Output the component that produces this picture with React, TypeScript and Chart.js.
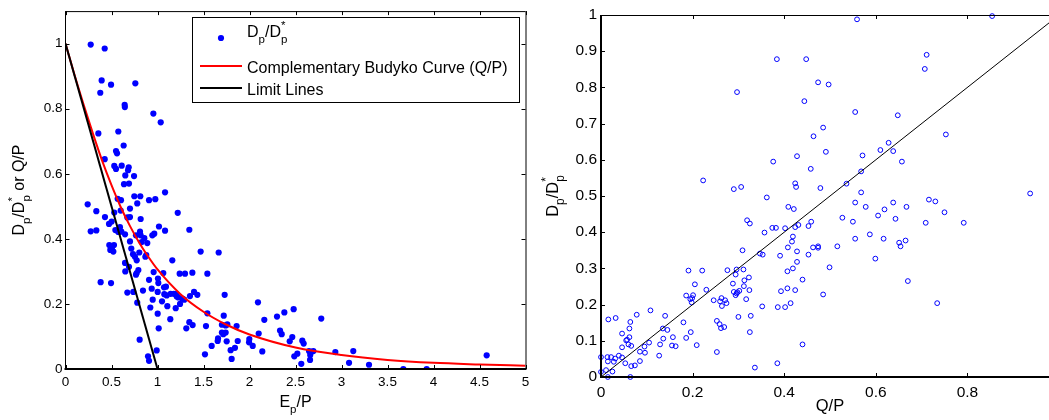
import React, { useEffect, useRef } from "react";
import { Chart, registerables } from "chart.js";

Chart.register(...registerables);

const FONT = "'Liberation Sans', Arial, Helvetica, sans-serif";

// ---------------- Left panel data ----------------
// Observed Dp/Dp* against Ep/P
const dpPoints: [number, number][] = [
  [0.274, 0.997], [0.426, 0.985], [0.393, 0.887], [0.495, 0.874], [0.759, 0.878], [0.378, 0.849],
  [0.643, 0.812], [0.645, 0.805], [0.955, 0.785], [1.035, 0.758], [0.357, 0.724], [0.574, 0.73],
  [0.632, 0.687], [0.549, 0.67], [0.56, 0.663], [0.426, 0.645], [0.53, 0.624], [0.549, 0.615],
  [0.611, 0.625], [0.687, 0.62], [0.68, 0.611], [0.65, 0.595], [0.745, 0.593], [0.636, 0.568], [0.69, 0.57],
  [0.567, 0.523], [0.603, 0.519], [0.748, 0.531], [0.813, 0.531], [0.78, 0.509], [0.908, 0.519],
  [0.976, 0.522], [1.082, 0.543], [0.241, 0.506], [0.335, 0.485], [0.274, 0.423], [0.335, 0.426],
  [0.429, 0.467], [0.53, 0.481], [0.6, 0.487], [0.701, 0.493], [0.672, 0.466], [0.701, 0.467],
  [0.817, 0.461], [1.22, 0.48], [0.473, 0.446], [0.502, 0.453], [0.592, 0.436], [1.016, 0.438],
  [1.082, 0.425], [1.346, 0.428], [0.944, 0.411], [0.965, 0.416], [0.81, 0.422], [0.817, 0.411],
  [0.766, 0.411], [0.857, 0.402], [0.647, 0.414], [0.542, 0.427], [0.574, 0.421], [0.607, 0.422],
  [0.828, 0.39], [0.889, 0.387], [0.701, 0.392], [0.476, 0.381], [0.495, 0.375], [0.527, 0.381],
  [0.487, 0.366], [0.52, 0.361], [0.505, 0.368], [0.715, 0.37], [0.734, 0.353], [0.755, 0.345],
  [0.802, 0.358], [0.774, 0.334], [0.868, 0.345], [0.878, 0.35], [1.161, 0.334], [1.469, 0.361],
  [1.665, 0.358], [0.647, 0.326], [0.69, 0.314],
  [0.65, 0.3], [0.792, 0.304], [0.766, 0.29], [0.774, 0.295], [0.382, 0.267], [0.495, 0.264],
  [0.908, 0.274], [0.958, 0.298], [1.005, 0.278], [1.063, 0.295], [1.009, 0.264], [1.241, 0.293],
  [1.299, 0.293], [1.379, 0.296], [1.542, 0.293], [0.672, 0.235], [0.737, 0.237], [0.842, 0.241],
  [0.937, 0.247], [1.002, 0.237], [1.071, 0.251], [1.092, 0.253], [1.074, 0.23], [1.1, 0.226],
  [1.049, 0.208], [0.948, 0.213], [1.143, 0.231], [1.179, 0.231], [1.205, 0.231], [1.227, 0.22],
  [1.209, 0.223], [1.27, 0.216], [1.353, 0.224], [1.397, 0.237], [1.433, 0.228], [1.245, 0.2],
  [1.291, 0.213], [0.78, 0.204], [2.092, 0.205], [1.73, 0.228],
  [1.198, 0.187], [1.107, 0.193], [0.922, 0.189], [1.002, 0.17], [1.139, 0.153], [1.013, 0.125],
  [1.313, 0.125], [1.346, 0.144], [1.382, 0.135], [1.542, 0.171], [1.527, 0.132], [1.72, 0.164],
  [1.7, 0.136], [1.741, 0.134], [1.759, 0.137], [1.86, 0.132], [2.161, 0.151], [2.299, 0.161],
  [2.379, 0.174], [2.48, 0.184], [2.1, 0.109], [1.998, 0.092], [1.995, 0.082], [2.035, 0.071],
  [1.658, 0.094], [1.654, 0.086], [1.715, 0.107], [1.7, 0.112], [1.741, 0.112], [1.752, 0.085],
  [1.589, 0.071], [1.516, 0.045], [1.795, 0.058], [1.842, 0.065], [1.872, 0.086], [1.806, 0.031],
  [2.139, 0.054], [2.332, 0.118], [2.35, 0.107], [2.437, 0.085], [2.465, 0.098], [2.487, 0.039],
  [2.52, 0.047], [2.574, 0.087], [2.589, 0.078], [2.563, 0.016], [2.647, 0.055], [2.672, 0.053],
  [2.694, 0.055], [2.66, 0.043], [2.658, 0.028], [2.78, 0.155], [2.933, 0.052], [3.082, 0.019],
  [3.128, 0.055], [3.299, 0.013], [3.672, 0.0], [3.926, 0.0], [4.578, 0.042], [0.806, 0.09],
  [0.897, 0.039], [0.908, 0.025], [0.991, 0.057],
];

// Complementary Budyko curve (Q/P)
const budykoX = [0, 0.1, 0.2, 0.3, 0.4, 0.5, 0.6, 0.7, 0.8, 0.9, 1, 1.25, 1.5, 1.75, 2, 2.5, 3, 3.5, 4, 4.5, 5];
const budykoY = [1, 0.902, 0.81, 0.722, 0.639, 0.565, 0.498, 0.44, 0.389, 0.345, 0.306, 0.23, 0.176, 0.136, 0.106, 0.066, 0.043, 0.028, 0.019, 0.014, 0.01];

// Limit line
const limitX = [0, 1];
const limitY = [1, 0];

const leftXTicks = [0, 0.5, 1, 1.5, 2, 2.5, 3, 3.5, 4, 4.5, 5];
const leftYTicks = [0, 0.2, 0.4, 0.6, 0.8, 1];

// ---------------- Right panel data ----------------
// Dp/Dp* against Q/P
const qpPoints: [number, number][] = [
  [0.559, 0.988], [0.854, 0.997], [0.384, 0.878], [0.448, 0.878], [0.711, 0.89], [0.707, 0.851],
  [0.297, 0.787], [0.474, 0.814], [0.497, 0.808], [0.444, 0.762], [0.555, 0.732], [0.648, 0.723],
  [0.485, 0.689], [0.464, 0.665], [0.753, 0.67], [0.628, 0.647], [0.61, 0.627], [0.638, 0.624],
  [0.491, 0.622], [0.428, 0.61], [0.571, 0.612], [0.376, 0.595], [0.657, 0.595], [0.458, 0.575],
  [0.568, 0.568], [0.223, 0.543], [0.536, 0.534], [0.424, 0.535], [0.426, 0.525], [0.29, 0.519],
  [0.306, 0.525], [0.479, 0.522], [0.568, 0.51], [0.937, 0.507], [0.362, 0.496], [0.716, 0.49],
  [0.73, 0.485], [0.555, 0.482], [0.638, 0.482], [0.578, 0.47], [0.667, 0.47], [0.409, 0.47],
  [0.421, 0.464], [0.619, 0.463], [0.75, 0.455], [0.605, 0.446], [0.527, 0.44], [0.643, 0.437],
  [0.55, 0.429], [0.709, 0.426], [0.792, 0.426], [0.459, 0.429], [0.453, 0.417], [0.431, 0.42],
  [0.424, 0.414], [0.402, 0.411], [0.319, 0.433], [0.325, 0.424], [0.374, 0.412], [0.382, 0.412],
  [0.357, 0.399],
  [0.587, 0.394], [0.555, 0.382], [0.617, 0.382], [0.419, 0.388], [0.417, 0.374], [0.651, 0.371],
  [0.654, 0.361], [0.665, 0.377], [0.516, 0.361], [0.463, 0.358], [0.474, 0.361], [0.474, 0.357],
  [0.408, 0.358], [0.428, 0.347], [0.453, 0.338], [0.391, 0.335], [0.599, 0.327], [0.428, 0.318],
  [0.499, 0.303], [0.419, 0.3], [0.407, 0.292], [0.44, 0.269], [0.67, 0.265], [0.407, 0.245],
  [0.424, 0.24], [0.393, 0.237], [0.485, 0.228], [0.414, 0.204], [0.734, 0.204], [0.402, 0.193],
  [0.44, 0.09], [0.347, 0.341], [0.353, 0.338], [0.309, 0.35], [0.386, 0.193], [0.352, 0.195],
  [0.324, 0.24], [0.317, 0.215], [0.323, 0.275], [0.313, 0.267], [0.312, 0.251], [0.311, 0.297],
  [0.288, 0.258], [0.294, 0.283], [0.296, 0.297], [0.29, 0.235], [0.294, 0.226], [0.298, 0.234],
  [0.302, 0.238], [0.296, 0.231], [0.276, 0.295], [0.3, 0.166], [0.327, 0.169], [0.325, 0.124],
  [0.336, 0.026], [0.385, 0.038],
  [0.263, 0.218], [0.26, 0.209], [0.264, 0.196], [0.271, 0.212], [0.274, 0.204], [0.246, 0.212],
  [0.253, 0.155], [0.259, 0.146], [0.262, 0.135], [0.269, 0.138], [0.253, 0.069], [0.23, 0.241],
  [0.221, 0.294], [0.191, 0.294], [0.205, 0.256], [0.186, 0.225], [0.201, 0.226], [0.199, 0.218],
  [0.195, 0.215], [0.198, 0.206], [0.196, 0.124], [0.186, 0.108], [0.209, 0.088], [0.18, 0.151],
  [0.157, 0.11], [0.163, 0.085], [0.155, 0.087], [0.14, 0.169], [0.145, 0.13], [0.135, 0.134],
  [0.136, 0.106], [0.129, 0.09], [0.127, 0.059], [0.108, 0.184], [0.105, 0.095], [0.095, 0.084],
  [0.096, 0.067], [0.085, 0.07], [0.085, 0.044], [0.074, 0.032], [0.066, 0.03], [0.064, 0.0],
  [0.078, 0.172], [0.064, 0.152], [0.062, 0.134], [0.062, 0.11], [0.057, 0.103], [0.055, 0.101],
  [0.066, 0.086], [0.06, 0.09], [0.046, 0.12], [0.046, 0.082], [0.032, 0.163], [0.016, 0.159],
  [0.039, 0.059], [0.046, 0.054], [0.053, 0.038], [0.031, 0.051], [0.028, 0.042], [0.014, 0.055],
  [0.022, 0.055], [0.015, 0.043], [0.0, 0.055], [0.0, 0.014], [0.011, 0.019], [0.025, 0.015],
  [0.015, 0.0],
];

// 1:1 line
const oneToOneX = [0, 1];
const oneToOneY = [0, 1];

const rightXTicks = [0, 0.2, 0.4, 0.6, 0.8, 1];
const rightYTicks = [0, 0.1, 0.2, 0.3, 0.4, 0.5, 0.6, 0.7, 0.8, 0.9, 1];

// ---------------- helpers ----------------
type Seg = { t: string; sub?: string; sup?: string };

function richWidth(ctx: CanvasRenderingContext2D, segs: Seg[], size: number) {
  let w = 0;
  for (const s of segs) {
    ctx.font = `${size}px ${FONT}`;
    w += ctx.measureText(s.t).width;
    if (s.sub || s.sup) {
      ctx.font = `${size * 0.72}px ${FONT}`;
      w += Math.max(s.sub ? ctx.measureText(s.sub).width : 0, s.sup ? ctx.measureText(s.sup).width : 0);
    }
  }
  return w;
}

function drawRich(
  ctx: CanvasRenderingContext2D,
  segs: Seg[],
  x: number,
  y: number,
  size: number,
  rot: number,
  align: "left" | "center"
) {
  ctx.save();
  ctx.translate(x, y);
  ctx.rotate(rot);
  ctx.fillStyle = "#000";
  ctx.textBaseline = "alphabetic";
  ctx.textAlign = "left";
  let cx = align === "center" ? -richWidth(ctx, segs, size) / 2 : 0;
  for (const s of segs) {
    ctx.font = `${size}px ${FONT}`;
    ctx.fillText(s.t, cx, 0);
    cx += ctx.measureText(s.t).width;
    if (s.sub || s.sup) {
      ctx.font = `${size * 0.72}px ${FONT}`;
      let sw = 0;
      if (s.sub) {
        ctx.fillText(s.sub, cx, size * 0.38);
        sw = Math.max(sw, ctx.measureText(s.sub).width);
      }
      if (s.sup) {
        ctx.fillText(s.sup, cx, -size * 0.5);
        sw = Math.max(sw, ctx.measureText(s.sup).width);
      }
      cx += sw;
    }
  }
  ctx.restore();
}

function line(ctx: CanvasRenderingContext2D, x1: number, y1: number, x2: number, y2: number) {
  ctx.beginPath();
  ctx.moveTo(x1, y1);
  ctx.lineTo(x2, y2);
  ctx.stroke();
}

function framePlugin(opts: {
  xTicks: number[];
  yTicks: number[];
  drawRight: boolean;
  leftW: number;
  bottomW: number;
  extra: (chart: any) => void;
}) {
  return {
    id: "frame",
    afterDatasetsDraw(chart: any) {
      const ctx: CanvasRenderingContext2D = chart.ctx;
      const a = chart.chartArea;
      const xs = chart.scales.x;
      const ys = chart.scales.y;
      const L = 4;
      ctx.save();
      ctx.strokeStyle = "#000";
      ctx.lineWidth = 1;
      for (const v of opts.xTicks) {
        const px = Math.round(xs.getPixelForValue(v)) + 0.5;
        line(ctx, px, a.bottom, px, a.bottom - L);
        line(ctx, px, a.top, px, a.top + L);
      }
      for (const v of opts.yTicks) {
        const py = Math.round(ys.getPixelForValue(v)) + 0.5;
        line(ctx, a.left, py, a.left + L, py);
        if (opts.drawRight) line(ctx, a.right, py, a.right - L, py);
      }
      // top
      line(ctx, a.left, a.top + 0.5, a.right, a.top + 0.5);
      if (opts.drawRight) line(ctx, a.right + 0.5, a.top, a.right + 0.5, a.bottom);
      ctx.lineWidth = opts.leftW;
      line(ctx, a.left, a.top, a.left, a.bottom + 1);
      ctx.lineWidth = opts.bottomW;
      line(ctx, a.left - 1, a.bottom, a.right + 1, a.bottom);
      ctx.restore();
    },
    afterDraw(chart: any) {
      opts.extra(chart);
    },
  };
}

function makeScales(cfg: {
  xMin: number; xMax: number; yMin: number; yMax: number;
  xTicks: number[]; yTicks: number[];
  yAxisW: number; xAxisH: number; fontSize: number; xPad: number; yPad: number;
}) {
  const tickFont = { family: FONT, size: cfg.fontSize };
  return {
    x: {
      type: "linear" as const,
      min: cfg.xMin,
      max: cfg.xMax,
      grid: { display: false, drawTicks: false },
      border: { display: false },
      afterBuildTicks: (s: any) => {
        s.ticks = cfg.xTicks.map((v) => ({ value: v }));
      },
      afterFit: (s: any) => {
        s.height = cfg.xAxisH;
      },
      ticks: {
        font: tickFont,
        color: "#000",
        padding: cfg.xPad,
        maxRotation: 0,
        autoSkip: false,
        callback: (v: any) => String(v),
      },
    },
    y: {
      type: "linear" as const,
      min: cfg.yMin,
      max: cfg.yMax,
      grid: { display: false, drawTicks: false },
      border: { display: false },
      afterBuildTicks: (s: any) => {
        s.ticks = cfg.yTicks.map((v) => ({ value: v }));
      },
      afterFit: (s: any) => {
        s.width = cfg.yAxisW;
      },
      ticks: {
        font: tickFont,
        color: "#000",
        padding: cfg.yPad,
        autoSkip: false,
        callback: (v: any) => String(v),
      },
    },
  };
}

function leftConfig(): any {
  const dpSeg: Seg[] = [{ t: "D", sub: "p" }, { t: "/D", sub: "p", sup: "*" }];
  return {
    type: "scatter",
    data: {
      datasets: [
        {
          label: "Dp/Dp*",
          data: dpPoints.map(([x, y]) => ({ x, y })),
          pointRadius: 3.1,
          pointBackgroundColor: "#0000ff",
          pointBorderWidth: 0,
          borderColor: "#0000ff",
          backgroundColor: "#0000ff",
          order: 3,
          clip: 0,
        },
        {
          label: "Complementary Budyko Curve (Q/P)",
          type: "line",
          data: budykoX.map((x, i) => ({ x, y: budykoY[i] })),
          borderColor: "#ff0000",
          borderWidth: 2,
          pointRadius: 0,
          cubicInterpolationMode: "monotone",
          fill: false,
          order: 2,
        },
        {
          label: "Limit Lines",
          type: "line",
          data: limitX.map((x, i) => ({ x, y: limitY[i] })),
          borderColor: "#000000",
          borderWidth: 2,
          pointRadius: 0,
          fill: false,
          order: 1,
        },
      ],
    },
    options: {
      animation: false,
      responsive: false,
      events: [],
      layout: { padding: { left: 0, right: 19.5, top: 8, bottom: 0 } },
      plugins: { legend: { display: false }, tooltip: { enabled: false } },
      scales: makeScales({
        xMin: 0, xMax: 5, yMin: 0, yMax: 1.1,
        xTicks: leftXTicks, yTicks: leftYTicks,
        yAxisW: 65.5, xAxisH: 51, fontSize: 13.5, xPad: 5, yPad: 3,
      }),
    },
    plugins: [
      framePlugin({
        xTicks: leftXTicks,
        yTicks: leftYTicks,
        drawRight: true,
        leftW: 1,
        bottomW: 2,
        extra: (chart: any) => {
          const ctx: CanvasRenderingContext2D = chart.ctx;
          const a = chart.chartArea;
          // axis titles
          drawRich(ctx, [{ t: "E", sub: "p" }, { t: "/P" }], (a.left + a.right) / 2, 407, 16, 0, "center");
          drawRich(ctx, [...dpSeg, { t: " or Q/P" }], 24, (a.top + a.bottom) / 2, 16, -Math.PI / 2, "center");
          // legend box
          ctx.save();
          ctx.fillStyle = "#fff";
          ctx.fillRect(192.5, 17.5, 327, 85);
          ctx.strokeStyle = "#000";
          ctx.lineWidth = 1;
          ctx.strokeRect(192.5, 17.5, 327, 85);
          ctx.fillStyle = "#0000ff";
          ctx.beginPath();
          ctx.arc(221, 38, 3.1, 0, Math.PI * 2);
          ctx.fill();
          ctx.lineWidth = 2;
          ctx.strokeStyle = "#ff0000";
          line(ctx, 200, 66, 242, 66);
          ctx.strokeStyle = "#000";
          line(ctx, 200, 88, 242, 88);
          ctx.restore();
          drawRich(ctx, dpSeg, 247, 37, 16, 0, "left");
          drawRich(ctx, [{ t: "Complementary Budyko Curve (Q/P)" }], 247, 73, 16, 0, "left");
          drawRich(ctx, [{ t: "Limit Lines" }], 247, 95, 16, 0, "left");
        },
      }),
    ],
  };
}

function rightConfig(): any {
  return {
    type: "scatter",
    data: {
      datasets: [
        {
          label: "Dp/Dp*",
          data: qpPoints.map(([x, y]) => ({ x, y })),
          pointRadius: 2.4,
          pointBackgroundColor: "rgba(0,0,0,0)",
          pointBorderColor: "#0000ff",
          pointBorderWidth: 1,
          borderColor: "#0000ff",
          order: 2,
          clip: false,
        },
        {
          label: "1:1",
          type: "line",
          data: oneToOneX.map((x, i) => ({ x, y: oneToOneY[i] })),
          borderColor: "#000000",
          borderWidth: 1,
          pointRadius: 0,
          fill: false,
          order: 1,
        },
      ],
    },
    options: {
      animation: false,
      responsive: false,
      events: [],
      layout: { padding: { left: 0, right: 21, top: 15, bottom: 0 } },
      plugins: { legend: { display: false }, tooltip: { enabled: false } },
      scales: makeScales({
        xMin: 0, xMax: 1, yMin: 0, yMax: 1,
        xTicks: rightXTicks, yTicks: rightYTicks,
        yAxisW: 61, xAxisH: 43, fontSize: 15.5, xPad: 6, yPad: 4,
      }),
    },
    plugins: [
      framePlugin({
        xTicks: rightXTicks,
        yTicks: rightYTicks,
        drawRight: true,
        leftW: 2,
        bottomW: 2,
        extra: (chart: any) => {
          const ctx: CanvasRenderingContext2D = chart.ctx;
          const a = chart.chartArea;
          drawRich(ctx, [{ t: "Q/P" }], (a.left + a.right) / 2, 411, 16.5, 0, "center");
          drawRich(
            ctx,
            [{ t: "D", sub: "p" }, { t: "/D", sub: "p", sup: "*" }],
            18,
            (a.top + a.bottom) / 2,
            16.5,
            -Math.PI / 2,
            "center"
          );
        },
      }),
    ],
  };
}

function ChartCanvas(props: { make: () => any; left: number; width: number }) {
  const ref = useRef<HTMLCanvasElement>(null);
  useEffect(() => {
    const chart = new Chart(ref.current as HTMLCanvasElement, props.make());
    return () => chart.destroy();
  }, []);
  return (
    <canvas
      ref={ref}
      width={props.width}
      height={420}
      style={{ position: "absolute", left: props.left, top: 0, width: props.width, height: 420 }}
    />
  );
}

export default function App() {
  return (
    <div
      style={{
        position: "fixed",
        left: 0,
        top: 0,
        width: 1049,
        height: 420,
        overflow: "hidden",
        background: "#fff",
      }}
    >
      <ChartCanvas make={leftConfig} left={0} width={545} />
      <ChartCanvas make={rightConfig} left={540} width={540} />
    </div>
  );
}
